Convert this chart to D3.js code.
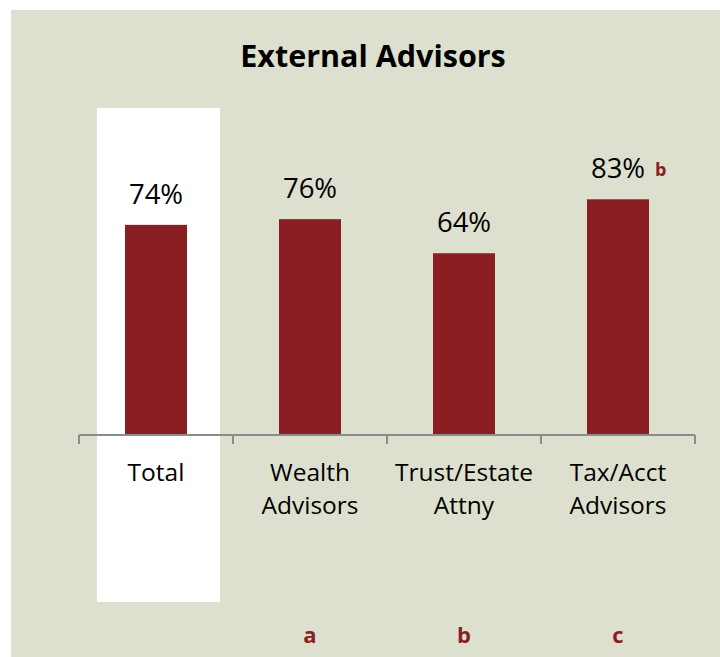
<!DOCTYPE html>
<html>
<head>
<meta charset="utf-8">
<script src="https://cdn.jsdelivr.net/npm/d3@7"></script>
<style>
  body { margin: 0; background: #fff; }
  svg text { font-family: "Open Sans", "Noto Sans", sans-serif; }
</style>
</head>
<body>
<script>
// chart data
var categories = ['Total', 'Wealth Advisors', 'Trust/Estate Attny', 'Tax/Acct Advisors'];
var labelLines = [['Total'], ['Wealth', 'Advisors'], ['Trust/Estate', 'Attny'], ['Tax/Acct', 'Advisors']];
var values = [74, 76, 64, 83];
var sigLetters = ['', 'a', 'b', 'c'];
var sigMarks = ['', '', '', 'b'];

var width = 720, height = 657;
var barColor = '#8b1e22';

var svg = d3.select('body').append('svg')
  .attr('width', width).attr('height', height);

// panel background
svg.append('rect')
  .attr('x', 11).attr('y', 10)
  .attr('width', width - 11).attr('height', height - 10)
  .attr('fill', '#dee0cf');

var x = d3.scaleBand()
  .domain(categories)
  .range([79, 695])
  .paddingInner(0).paddingOuter(0);

var y = d3.scaleLinear()
  .domain([0, 100])
  .range([435, 151]);

// white highlight behind Total
svg.append('rect')
  .attr('x', x('Total') + 18)
  .attr('y', 108)
  .attr('width', 123)
  .attr('height', 494)
  .attr('fill', '#ffffff');

svg.append('text')
  .attr('x', 373).attr('y', 67)
  .attr('text-anchor', 'middle')
  .style('font-size', '30.5px')
  .style('font-weight', 'bold')
  .attr('fill', '#000')
  .text('External Advisors');

var barW = 62;

svg.selectAll('rect.bar')
  .data(values)
  .enter()
  .append('rect')
  .attr('class', 'bar')
  .attr('x', function (d, i) { return x(categories[i]) + x.bandwidth() / 2 - barW / 2; })
  .attr('y', function (d) { return y(d); })
  .attr('width', barW)
  .attr('height', function (d) { return y(0) - y(d); })
  .attr('fill', barColor);

svg.selectAll('text.val')
  .data(values)
  .enter()
  .append('text')
  .attr('class', 'val')
  .attr('x', function (d, i) { return x(categories[i]) + x.bandwidth() / 2; })
  .attr('y', function (d) { return y(d) - 21; })
  .attr('text-anchor', 'middle')
  .style('font-size', '27.5px')
  .attr('fill', '#000')
  .text(function (d) { return d + '%'; });

// small significance mark next to value label
svg.selectAll('text.sigmark')
  .data(sigMarks)
  .enter()
  .append('text')
  .attr('class', 'sigmark')
  .attr('x', function (d, i) { return x(categories[i]) + x.bandwidth() / 2 + 37; })
  .attr('y', function (d, i) { return y(values[i]) - 23; })
  .style('font-size', '18px')
  .style('font-weight', 'bold')
  .attr('fill', barColor)
  .text(function (d) { return d; });

// axis
var axis = d3.axisBottom(x).tickSize(0).tickFormat('');
var ag = svg.append('g').attr('transform', 'translate(0,435)').call(axis);
ag.select('.domain').attr('stroke', '#8c8c8c').attr('stroke-width', 2).attr('d', 'M79,0H695');

var tickPos = categories.map(function (c) { return x(c); }).concat([x.range()[1]]);
svg.selectAll('line.tk')
  .data(tickPos)
  .enter()
  .append('line')
  .attr('class', 'tk')
  .attr('x1', function (d) { return d; }).attr('x2', function (d) { return d; })
  .attr('y1', 435).attr('y2', 444)
  .attr('stroke', '#8c8c8c').attr('stroke-width', 2);

var cat = svg.selectAll('text.cat')
  .data(labelLines)
  .enter()
  .append('text')
  .attr('class', 'cat')
  .attr('text-anchor', 'middle')
  .style('font-size', '24.5px')
  .attr('fill', '#000');
cat.selectAll('tspan')
  .data(function (d, i) { return d.map(function (t) { return { t: t, i: i }; }); })
  .enter()
  .append('tspan')
  .attr('x', function (d) { return x(categories[d.i]) + x.bandwidth() / 2; })
  .attr('y', function (d, j) { return 481 + j * 33; })
  .text(function (d) { return d.t; });

svg.selectAll('text.sig')
  .data(sigLetters)
  .enter()
  .append('text')
  .attr('class', 'sig')
  .attr('x', function (d, i) { return x(categories[i]) + x.bandwidth() / 2; })
  .attr('y', 643)
  .attr('text-anchor', 'middle')
  .style('font-size', '22px')
  .style('font-weight', 'bold')
  .attr('fill', barColor)
  .text(function (d) { return d; });
</script>
</body>
</html>
